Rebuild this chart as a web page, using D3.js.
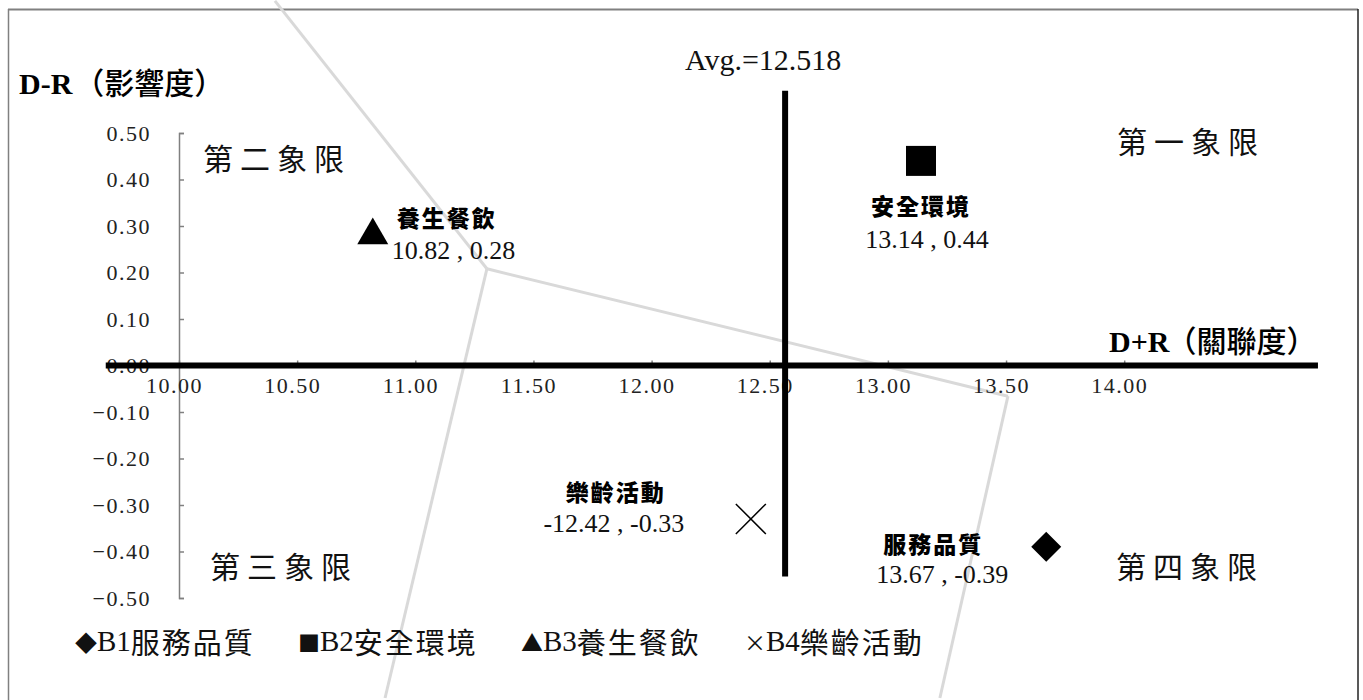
<!DOCTYPE html>
<html><head><meta charset="utf-8">
<script src="https://cdn.jsdelivr.net/npm/d3@7"></script>
<style>
html,body{margin:0;padding:0;background:#fff;}
svg{display:block;}
</style></head>
<body>
<svg id="c" width="1363" height="700"></svg>
<script>
// ---- data ----
const categories = ["服務品質", "安全環境", "養生餐飲", "樂齡活動"];
const codes = ["B1", "B2", "B3", "B4"];
const dPlusR = [13.67, 13.14, 10.82, 12.42];
const dMinusR = [-0.39, 0.44, 0.28, -0.33];
const valueLabels = ["13.67 , -0.39", "13.14 , 0.44", "10.82 , 0.28", "-12.42 , -0.33"];
const legendSymbols = ["◆", "■", "▲", "×"];
const xTicks = [10, 10.5, 11, 11.5, 12, 12.5, 13, 13.5, 14];
const yTicks = [0.5, 0.4, 0.3, 0.2, 0.1, 0, -0.1, -0.2, -0.3, -0.4, -0.5];
const avgValue = 12.518;
const avgLinePos = 12.565;          // where the average line is drawn in the picture
const avgLineSpan = [0.591, -0.454];
const zeroLineSpan = [9.69, 14.82];
const quadrantNames = ["第一象限", "第二象限", "第三象限", "第四象限"];
const quadrantAnchors = [[13.97, 0.484], [10.102, 0.4475], [10.131, -0.428], [13.965, -0.428]];
const overlayPoints = [[10.406, 0.784], [11.303, 0.208], [13.508, -0.066], [10.872, -0.715], [13.22, -0.715]];
const overlaySegments = [[0, 1], [1, 2], [1, 3], [2, 4]];

// ---- layout / style ----
const svg = d3.select("#c");
const x = d3.scaleLinear().domain([10, 14]).range([179, 1124.2]);
const y = d3.scaleLinear().domain([-0.5, 0.5]).range([598, 133]);
const serif = "'Liberation Serif','Times New Roman',serif";
const cjk = "'Noto Sans CJK TC','Noto Sans CJK SC',sans-serif";
const fmt = v => d3.format(".2f")(v);

// border
svg.append("line").attr("x1", 8).attr("x2", 1358).attr("y1", 9.5).attr("y2", 9.5).attr("stroke", "#808080").attr("stroke-width", 2);
svg.append("line").attr("x1", 8.5).attr("x2", 8.5).attr("y1", 9).attr("y2", 700).attr("stroke", "#808080").attr("stroke-width", 1.5);
svg.append("line").attr("x1", 1358).attr("x2", 1358).attr("y1", 9).attr("y2", 700).attr("stroke", "#222").attr("stroke-width", 1.5);

// light grey overlay lines
svg.append("g").selectAll("line").data(overlaySegments).join("line")
  .attr("x1", d => x(overlayPoints[d[0]][0])).attr("y1", d => y(overlayPoints[d[0]][1]))
  .attr("x2", d => x(overlayPoints[d[1]][0])).attr("y2", d => y(overlayPoints[d[1]][1]))
  .attr("stroke", "#d9d9d9").attr("stroke-width", 3);

// y axis
const yAxis = svg.append("g").attr("transform", `translate(${x(10)},0)`)
  .call(d3.axisLeft(y).tickValues(yTicks).tickSizeInner(-5).tickSizeOuter(-5).tickPadding(28).tickFormat(fmt));
yAxis.selectAll("path,line").attr("stroke", "#808080").attr("stroke-width", 1.5);
yAxis.selectAll("text").attr("font-family", serif).attr("font-size", 22).attr("letter-spacing", 1.5).attr("fill", "#222");

// x axis
const xAxis = svg.append("g").attr("transform", `translate(0,${y(0)})`)
  .call(d3.axisBottom(x).tickValues(xTicks).tickSizeInner(-5).tickSizeOuter(0).tickPadding(12).tickFormat(d3.format(".2f")));
xAxis.selectAll("path,line").attr("stroke", "#808080").attr("stroke-width", 1.5);
xAxis.selectAll("text").attr("font-family", serif).attr("font-size", 22).attr("letter-spacing", 1.5).attr("fill", "#222").attr("dx", -5);

// thick zero line and average line
svg.append("line").attr("x1", x(zeroLineSpan[0])).attr("x2", x(zeroLineSpan[1])).attr("y1", y(0)).attr("y2", y(0))
  .attr("stroke", "#000").attr("stroke-width", 6);
svg.append("line").attr("x1", x(avgLinePos)).attr("x2", x(avgLinePos)).attr("y1", y(avgLineSpan[0])).attr("y2", y(avgLineSpan[1]))
  .attr("stroke", "#000").attr("stroke-width", 6);

// axis titles
const t1 = svg.append("text").attr("x", 19).attr("y", 94).attr("fill", "#000");
t1.append("tspan").attr("font-family", serif).attr("font-weight", "bold").attr("font-size", 30).text("D-R");
t1.append("tspan").attr("font-family", cjk).attr("font-weight", 500).attr("font-size", 30).attr("dx", 2).text("（影響度）");
const t2 = svg.append("text").attr("x", 1109).attr("y", 352).attr("fill", "#000");
t2.append("tspan").attr("font-family", serif).attr("font-weight", "bold").attr("font-size", 30).text("D+R");
t2.append("tspan").attr("font-family", cjk).attr("font-weight", 500).attr("font-size", 30).attr("dx", -3).text("（關聯度）");

svg.append("text").attr("x", 685).attr("y", 70).attr("font-family", serif).attr("font-size", 30).attr("fill", "#111")
  .text("Avg.=" + avgValue);

// quadrant names
svg.append("g").selectAll("text").data(quadrantNames).join("text")
  .attr("x", (d, i) => x(quadrantAnchors[i][0])).attr("y", (d, i) => y(quadrantAnchors[i][1]))
  .attr("dominant-baseline", "central")
  .attr("font-family", cjk).attr("font-weight", 400).attr("font-size", 30).attr("letter-spacing", 7).attr("fill", "#111")
  .text(d => d);

// markers
const pts = categories.map((c, i) => ({c, i, x: dPlusR[i], y: dMinusR[i]}));
const sym = [
  d3.symbol().type(d3.symbolSquare).size(450),
  d3.symbol().type(d3.symbolSquare).size(900),
  d3.symbol().type(d3.symbolTriangle).size(416),
  d3.symbol().type(d3.symbolTimes).size(589)
];
const rot = [45, 0, 0, 0];
svg.append("g").selectAll("path").data(pts).join("path")
  .attr("transform", d => `translate(${x(d.x)},${y(d.y)}) rotate(${rot[d.i]})`)
  .attr("d", d => sym[d.i]())
  .attr("fill", d => d.i === 3 ? "none" : "#000")
  .attr("stroke", d => d.i === 3 ? "#000" : "none")
  .attr("stroke-width", 1.5);

// point labels (offsets in px from marker)
const nameOff = [[-113, -4], [0, 44], [24, -18], [-135, -28]];
const nameAnchor = ["middle", "middle", "start", "middle"];
const valOff = [[-104, 36], [6, 87], [19, 24], [-137, 13]];
const valAnchor = ["middle", "middle", "start", "middle"];
svg.append("g").selectAll("text").data(pts).join("text")
  .attr("x", d => x(d.x) + nameOff[d.i][0]).attr("y", d => y(d.y) + nameOff[d.i][1])
  .attr("text-anchor", d => nameAnchor[d.i]).attr("dominant-baseline", "central")
  .attr("font-family", cjk).attr("font-weight", 900).attr("font-size", 23).attr("letter-spacing", 2).attr("fill", "#000")
  .text(d => d.c);
svg.append("g").selectAll("text").data(pts).join("text")
  .attr("x", d => x(d.x) + valOff[d.i][0]).attr("y", d => y(d.y) + valOff[d.i][1])
  .attr("text-anchor", d => valAnchor[d.i])
  .attr("font-family", serif).attr("font-size", 26).attr("fill", "#111")
  .text(d => valueLabels[d.i]);

// legend
const leg = svg.append("g").attr("transform", "translate(75,641)");
const li = leg.selectAll("text").data(categories).join("text")
  .attr("x", (d, i) => i * 223).attr("y", 0).attr("dominant-baseline", "central").attr("fill", "#111");
li.append("tspan").attr("font-family", cjk).attr("font-size", 22).text((d, i) => legendSymbols[i]);
li.append("tspan").attr("font-family", serif).attr("font-size", 29).text((d, i) => codes[i]);
li.append("tspan").attr("font-family", cjk).attr("font-weight", 400).attr("font-size", 29).attr("letter-spacing", 2).text(d => d);
</script>
</body></html>
